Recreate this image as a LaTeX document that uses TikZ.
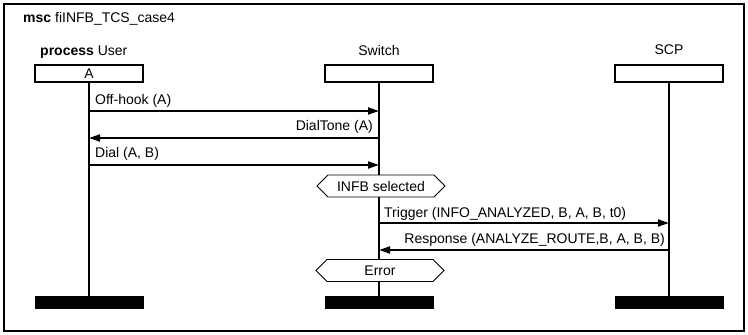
\documentclass[tikz,border=0pt]{standalone}
\usepackage{fontspec}
\setmainfont{Liberation Sans}
\usetikzlibrary{arrows.meta,shapes.symbols}
\begin{document}
\begin{tikzpicture}[x=1pt,y=-1pt,
  every node/.style={font=\fontsize{14}{16}\selectfont, inner sep=0pt},
  head/.style={draw, line width=2pt, minimum width=108pt, minimum height=17pt},
  endbar/.style={fill=black, minimum width=109pt, minimum height=13pt},
  life/.style={line width=2pt},
  msg/.style={line width=2pt, -{Triangle[length=11pt,width=7pt]}},
  cond/.style={draw, fill=white, line width=0.9pt, shape=signal, signal to=west and east,
    signal pointer angle=90, minimum width=128pt, minimum height=22pt},
  lbl/.style={anchor=base west},
  lblr/.style={anchor=base east},
]
\useasboundingbox (0,0) rectangle (748,335);
% outer msc frame and title
\draw[line width=2pt] (4,4) rectangle (744,331);
\node[lbl] (title) at (23,22) {\textbf{msc} fiINFB\_TCS\_case4};

% instance names
\node[lbl] (nU) at (40,55) {\textbf{process} User};
\node (nS) at (379,50) {Switch};
\node (nC) at (669,50) {SCP};

% instance heads
\node[head] (hU) at (89,73.5) {A};
\node[head] (hS) at (379,73.5) {};
\node[head] (hC) at (669,73.5) {};

% instance ends
\node[endbar] (eU) at (89,302.5) {};
\node[endbar] (eS) at (379,302.5) {};
\node[endbar] (eC) at (669,302.5) {};

% lifelines
\draw[life] (hU.south) -- (eU.north);
\draw[life] (hS.south) -- (eS.north);
\draw[life] (hC.south) -- (eC.north);

% messages
\draw[msg] (hU |- {0,111}) -- (hS |- {0,111});
\node[lbl] (l1) at (95,104) {Off-hook (A)};
\draw[msg] (hS |- {0,138}) -- (hU |- {0,138});
\node[lblr] (l2) at (373,130) {DialTone (A)};
\draw[msg] (hU |- {0,165}) -- (hS |- {0,165});
\node[lbl] (l3) at (95,157) {Dial (A, B)};

% conditions
\node[cond] (c1) at (381,186) {INFB selected};

\draw[msg] (hS |- {0,223}) -- (hC |- {0,223});
\node[lbl] (l4) at (384,217) {Trigger (INFO\_ANALYZED, B, A, B, t0)};
\draw[msg] (hC |- {0,250}) -- (hS |- {0,250});
\node[lblr] (l5) at (665,243) {Response (ANALYZE\_ROUTE,B, A, B, B)};

\node[cond] (c2) at (380,270.5) {Error};
\end{tikzpicture}
\end{document}
